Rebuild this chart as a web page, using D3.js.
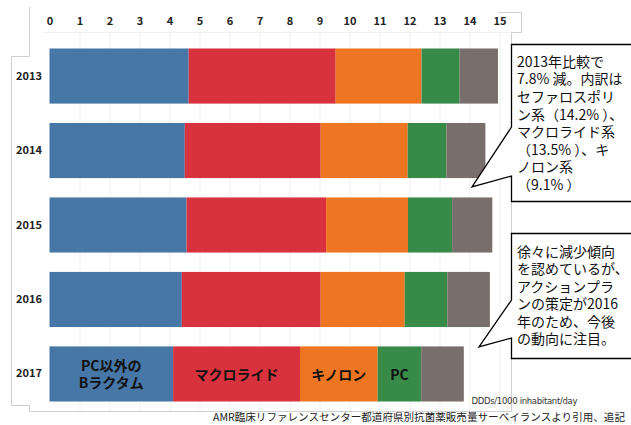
<!DOCTYPE html>
<html><head><meta charset="utf-8">
<script src="https://cdn.jsdelivr.net/npm/d3@7/dist/d3.min.js"></script>
<style>
html,body{margin:0;padding:0;background:#fff;}
svg{display:block;font-family:"Noto Sans CJK JP","Noto Sans",sans-serif;}
</style></head>
<body>
<svg id="c" width="631" height="425"></svg>
<script>
// ---- data ----
const years = ["2013", "2014", "2015", "2016", "2017"];
const classes = ["PC以外のBラクタム", "マクロライド", "キノロン", "PC", "その他"];
const classLabels = [["PC以外の", "Bラクタム"], ["マクロライド"], ["キノロン"], ["PC"], []];
const betaLactamNonPC = [4.64, 4.51, 4.57, 4.41, 4.12];
const macrolide = [4.90, 4.53, 4.65, 4.63, 4.23];
const quinolone = [2.86, 2.90, 2.73, 2.80, 2.59];
const penicillin = [1.27, 1.29, 1.47, 1.42, 1.45];
const other = [1.28, 1.30, 1.34, 1.42, 1.42];
const tickValues = [0,1,2,3,4,5,6,7,8,9,10,11,12,13,14,15];
const colors = ["#4677a6", "#d9323f", "#ee7622", "#388a48", "#786f6c"];
const unitText = "DDDs/1000 inhabitant/day";
const sourceText = "AMR臨床リファレンスセンター都道府県別抗菌薬販売量サーベイランスより引用、追記";
const note1 = ["2013年比較で", "7.8% 減。内訳は", "セファロスポリ", "ン系（14.2% ）、", "マクロライド系", "（13.5% ）、キ", "ノロン系", "（9.1% ）"];
const note2 = ["徐々に減少傾向", "を認めているが、", "アクションプラ", "ンの策定が2016", "年のため、今後", "の動向に注目。"];

const seriesArrays = [betaLactamNonPC, macrolide, quinolone, penicillin, other];
const table = years.map((y, i) => {
  const row = {year: y};
  classes.forEach((c, k) => row[c] = seriesArrays[k][i]);
  return row;
});

const svg = d3.select("#c");
const x = d3.scaleLinear().domain([0, 15]).range([49.5, 499.5]);
const y = d3.scaleBand().domain(years).range([38.8, 411.2]).paddingInner(0.26).paddingOuter(0.13);
const color = d3.scaleOrdinal().domain(classes).range(colors);

// frame lines of pasted picture
const frame = svg.append("g").attr("fill", "none").attr("stroke", "#cfcfcf").attr("stroke-width", 1);
frame.append("path").attr("d", "M29.5,7 V56.5 H11.5 V405.5 H29.5 V411.5 H511.5 V32.5 H521.5 V12.5 H498");

// grid
const grid = svg.append("g").attr("transform", "translate(0,32)")
  .call(d3.axisBottom(x).tickValues(tickValues.slice(1)).tickSize(379).tickFormat(""));
grid.select(".domain").remove();
grid.selectAll("line").attr("stroke", "#efefef");
svg.append("line").attr("x1", 43).attr("x2", 511).attr("y1", 32.5).attr("y2", 32.5).attr("stroke", "#f0f0f0");

// axis labels on top
const ax = svg.append("g").attr("transform", "translate(0,25)")
  .call(d3.axisTop(x).tickValues(tickValues).tickSize(0).tickPadding(0));
ax.select(".domain").remove();
ax.selectAll("text").attr("font-size", 11).attr("font-weight", "bold").attr("fill", "#222")
  .attr("font-family", "'Noto Sans CJK JP',sans-serif");

// stacked bars
const stack = d3.stack().keys(classes)(table);
const layers = svg.append("g").selectAll("g").data(stack).join("g").attr("fill", d => color(d.key));
layers.selectAll("rect").data(d => d).join("rect")
  .attr("x", d => x(d[0])).attr("width", d => x(d[1]) - x(d[0]))
  .attr("y", d => y(d.data.year)).attr("height", y.bandwidth());

// year labels
const yax = svg.append("g").attr("transform", "translate(42,0)")
  .call(d3.axisLeft(y).tickSize(0).tickPadding(0));
yax.select(".domain").remove();
yax.selectAll("text").attr("font-size", 11).attr("font-weight", "bold").attr("fill", "#222")
  .attr("font-family", "'Noto Sans CJK JP',sans-serif");

// labels inside last bar (multi-line as one text element)
const last = years[years.length - 1];
stack.forEach((layer, k) => {
  const seg = layer[layer.length - 1];
  const lines = classLabels[k];
  if (!lines.length) return;
  const cx = (x(seg[0]) + x(seg[1])) / 2;
  const cy = y(last) + y.bandwidth() / 2 + 1;
  const t = svg.append("text").attr("text-anchor", "middle")
    .attr("font-size", 14).attr("font-weight", "bold").attr("fill", "#111");
  lines.forEach((s, j) => {
    t.append("tspan").attr("x", cx).attr("y", cy + (j - (lines.length - 1) / 2) * 17)
      .attr("dy", "0.35em").text(s);
  });
});

// unit text
svg.append("text").attr("x", 471.5).attr("y", 404).attr("font-size", 8.5).attr("fill", "#333")
  .attr("textLength", 106).attr("lengthAdjust", "spacing")
  .attr("font-family", "'DejaVu Sans',sans-serif").text(unitText);

// source text
svg.append("text").attr("x", 213).attr("y", 421).attr("font-size", 10.5).attr("fill", "#222")
  .attr("textLength", 412).attr("lengthAdjust", "spacingAndGlyphs").text(sourceText);

// callouts
const callouts = svg.append("g");
callouts.append("path").attr("d", "M511.5,44.5 H640 V201.5 H511.5 V176 L472,187 L511.5,127 Z")
  .attr("fill", "#fff").attr("stroke", "#000").attr("stroke-width", 1.3);
callouts.append("path").attr("d", "M511.5,233.5 H640 V358.5 H511.5 V338 L479,347 L511.5,300 Z")
  .attr("fill", "#fff").attr("stroke", "#000").attr("stroke-width", 1.3);
function multiline(lines, y0, step) {
  const t = callouts.append("text").attr("font-size", 14).attr("fill", "#111");
  lines.forEach((s, i) => {
    t.append("tspan").attr("x", 517).attr("y", y0 + i * step).attr("dy", "0.36em").text(s);
  });
}
multiline(note1, 61.7, 17.6);
multiline(note2, 251.7, 17.5);
</script>
</body></html>
